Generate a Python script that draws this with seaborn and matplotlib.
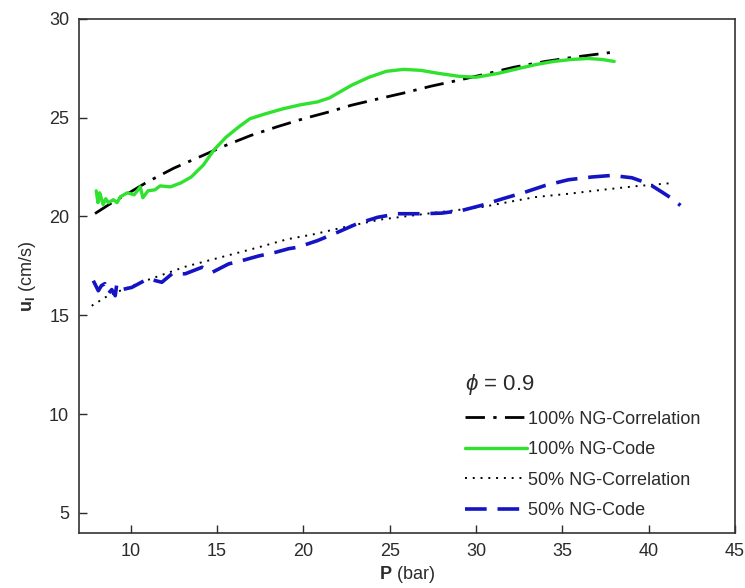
import matplotlib
matplotlib.use("Agg")
import matplotlib.pyplot as plt
import seaborn as sns

# Laminar flame speed vs pressure, phi = 0.9
corr100_p = [7.93, 9.0, 10.0, 10.94, 12.5, 14.2, 15.5, 16.94, 18.5, 20.0, 21.5,
             22.76, 24.3, 25.8, 27.4, 28.98, 30.5, 32.2, 34.0, 35.7, 37.75]
corr100_u = [20.15, 20.75, 21.25, 21.74, 22.45, 23.1, 23.6, 24.1, 24.55, 24.95, 25.3,
             25.63, 25.95, 26.25, 26.6, 26.9, 27.2, 27.56, 27.85, 28.07, 28.3]

code100_p = [8.0, 8.1, 8.2, 8.3, 8.4, 8.55, 8.7, 9.0, 9.2, 9.4, 9.8, 10.2, 10.55, 10.7,
             11.0, 11.4, 11.7, 12.3, 12.9, 13.5, 14.2, 14.8, 15.5, 16.2, 16.9, 17.8,
             18.8, 19.8, 20.8, 21.5, 22.2, 22.8, 23.8, 24.8, 25.8, 26.8, 27.8, 29.0,
             30.0, 31.3, 32.5, 33.5, 34.5, 35.5, 36.5, 37.3, 38.0]
code100_u = [21.3, 20.7, 21.2, 20.9, 20.6, 20.9, 20.7, 20.85, 20.7, 21.0, 21.2, 21.1,
             21.5, 20.95, 21.3, 21.35, 21.55, 21.5, 21.7, 22.0, 22.6, 23.35, 24.0,
             24.5, 24.95, 25.2, 25.45, 25.65, 25.8, 26.0, 26.35, 26.65, 27.05, 27.35,
             27.45, 27.4, 27.25, 27.1, 27.05, 27.25, 27.5, 27.7, 27.85, 27.95, 28.0,
             27.95, 27.85]

corr50_p = [7.74, 8.7, 10.6, 13.16, 15.5, 17.4, 19.07, 20.6, 22.56, 24.5, 27.4,
            30.3, 31.8, 33.4, 35.35, 37.3, 39.2, 41.45]
corr50_u = [15.48, 16.0, 16.67, 17.46, 18.0, 18.44, 18.85, 19.1, 19.5, 19.85, 20.17,
            20.47, 20.72, 20.98, 21.15, 21.35, 21.53, 21.7]

code50_p = [7.83, 8.12, 8.3, 8.5, 8.7, 8.9, 9.1, 9.19, 9.5, 10.06, 11.0, 11.8, 12.39,
            13.16, 14.13, 14.71, 15.67, 16.46, 17.4, 18.4, 19.15, 19.66, 20.82, 21.98,
            23.1, 24.3, 25.47, 26.8, 28.0, 29.15, 30.3, 31.55, 32.83, 34.0, 35.35,
            36.7, 37.87, 39.03, 40.0, 40.78, 41.36, 41.84]
code50_u = [16.75, 16.24, 16.5, 16.6, 16.1, 16.3, 15.99, 16.58, 16.3, 16.41, 16.85,
            16.67, 17.1, 17.1, 17.43, 17.17, 17.6, 17.77, 18.0, 18.19, 18.37, 18.44,
            18.78, 19.2, 19.63, 19.96, 20.14, 20.14, 20.17, 20.3, 20.56, 20.9, 21.23,
            21.57, 21.86, 22.0, 22.08, 21.96, 21.66, 21.23, 20.9, 20.56]

x_ticks = [10, 15, 20, 25, 30, 35, 40, 45]
y_ticks = [5, 10, 15, 20, 25, 30]

sns.set_theme(style="white")
plt.rcParams["font.family"] = ["Liberation Sans", "DejaVu Sans"]
plt.rcParams["mathtext.fontset"] = "custom"
plt.rcParams["mathtext.rm"] = "Liberation Sans"
plt.rcParams["mathtext.it"] = "Liberation Sans:italic"
plt.rcParams["mathtext.bf"] = "Liberation Sans:bold"

text_col = "#2b2b2b"
fig = plt.figure(figsize=(7.45, 5.88), dpi=100)
ax = fig.add_axes([0.106, 0.0927, 0.8806, 0.875])

sns.lineplot(x=corr100_p, y=corr100_u, ax=ax, color="black", lw=2.0,
             sort=False, estimator=None, label="100% NG-Correlation")
ax.lines[-1].set_dashes([7, 3, 1.2, 3])
sns.lineplot(x=code100_p, y=code100_u, ax=ax, color="#2ee22e", lw=2.4,
             sort=False, estimator=None, label="100% NG-Code")
sns.lineplot(x=corr50_p, y=corr50_u, ax=ax, color="black", lw=1.4,
             sort=False, estimator=None, label="50% NG-Correlation")
ax.lines[-1].set_dashes([1.0, 3.0])
sns.lineplot(x=code50_p, y=code50_u, ax=ax, color="#1414c4", lw=2.6,
             sort=False, estimator=None, label="50% NG-Code")
ax.lines[-1].set_dashes([6, 3])

ax.set_xlim(7, 45)
ax.set_ylim(3.95, 30)
ax.set_xticks(x_ticks)
ax.set_yticks(y_ticks)
ax.tick_params(direction="in", length=6, width=1.0, colors=text_col,
               labelsize=13, bottom=True, left=True, top=False, right=False, pad=7)
for s in ax.spines.values():
    s.set_visible(True)
    s.set_color("#333333")
    s.set_linewidth(1.2)

ax.set_xlabel(r"$\mathbf{P}$ (bar)", fontsize=13, color=text_col, labelpad=3)
ax.set_ylabel(r"$\mathbf{u}_\mathbf{l}$ (cm/s)", fontsize=13, color=text_col, labelpad=8)

leg = ax.legend(loc="lower left", bbox_to_anchor=(0.575, 0.01), frameon=False,
                fontsize=13, title=r"$\phi$ = 0.9", title_fontsize=16,
                handlelength=3.4, handletextpad=0.1, labelspacing=0.75,
                borderpad=0.0, alignment="left")
for t in leg.get_texts():
    t.set_color(text_col)
leg.get_title().set_color(text_col)

fig.savefig("out.png", dpi=100)
